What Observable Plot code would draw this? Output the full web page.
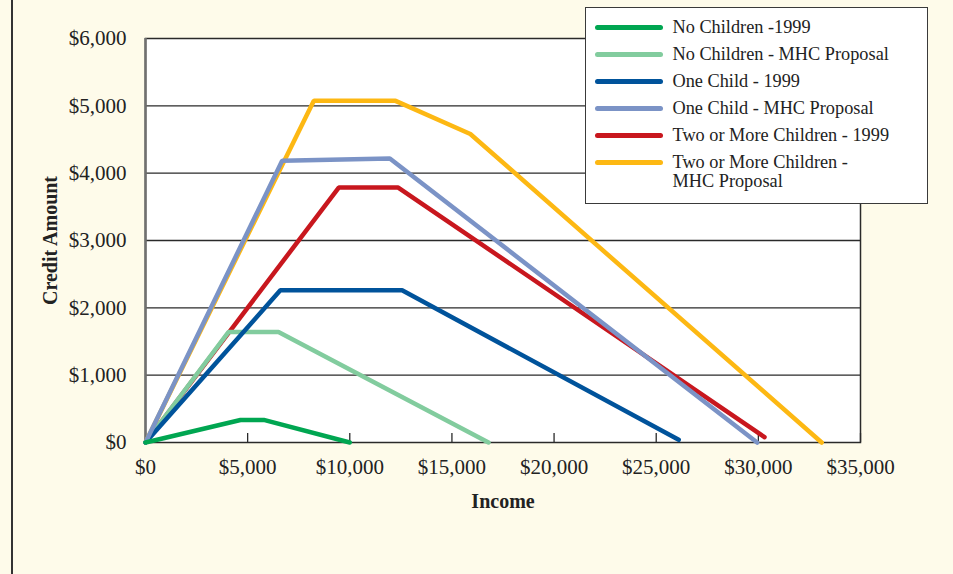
<!DOCTYPE html>
<html><head><meta charset="utf-8">
<script src="https://cdn.jsdelivr.net/npm/d3@7"></script>
<script src="https://cdn.jsdelivr.net/npm/@observablehq/plot@0.6"></script>
<style>
html,body{margin:0;padding:0;background:#fefbea;}
#wrap{position:relative;width:953px;height:574px;overflow:hidden;}
#edge{position:absolute;left:11px;top:0;width:1.5px;height:574px;background:#333;}
#legend{position:absolute;left:585px;top:7px;width:343px;height:197px;background:#fff;border:1.5px solid #3a3a3a;font-family:"Liberation Serif",serif;font-size:18.3px;color:#222;box-sizing:border-box;padding-top:6px;}
.row{display:flex;align-items:flex-start;height:27px;}
.sw{flex:none;width:68px;height:4.5px;border-radius:3px;margin-left:8.5px;margin-right:10px;margin-top:11.25px;}
.lab{line-height:27px;white-space:nowrap;}
.lab.two{line-height:18.4px;margin-top:4.3px;}
svg g[aria-label="y-axis label"] text, svg g[aria-label="x-axis label"] text{font-weight:bold;font-size:20px;}
</style>
</head><body>
<div id="wrap"><div id="edge"></div><div id="chart"></div><div id="legend"></div></div>
<script>
const seriesNames = ["No Children -1999", "No Children - MHC Proposal", "One Child - 1999", "One Child - MHC Proposal", "Two or More Children - 1999", "Two or More Children - MHC Proposal"];
const seriesColors = ["#00a651", "#82cc9e", "#00539b", "#7b93c6", "#c8171e", "#fdb813"];
// order in which the lines are stacked, bottom first (indices into seriesNames)
const drawOrder = [5, 4, 1, 2, 3, 0];

const noKids1999Income = [0, 4650, 5790, 10000];
const noKids1999Credit = [0, 335, 335, 0];
const noKidsMHCIncome = [0, 4060, 6510, 16790];
const noKidsMHCCredit = [0, 1640, 1640, 0];
const oneChild1999Income = [0, 6600, 12560, 26100];
const oneChild1999Credit = [0, 2260, 2260, 40];
const oneChildMHCIncome = [0, 6690, 11960, 29940];
const oneChildMHCCredit = [0, 4183, 4217, 0];
const twoPlus1999Income = [0, 9460, 12370, 30300];
const twoPlus1999Credit = [0, 3786, 3786, 80];
const twoPlusMHCIncome = [0, 8240, 12240, 15900, 33100];
const twoPlusMHCCredit = [0, 5074, 5074, 4582, 0];

const xTicks = [0, 5000, 10000, 15000, 20000, 25000, 30000, 35000];
const yTicks = [0, 1000, 2000, 3000, 4000, 5000, 6000];
const gridValues = [1000, 2000, 3000, 4000, 5000];

const incomes = [noKids1999Income, noKidsMHCIncome, oneChild1999Income, oneChildMHCIncome, twoPlus1999Income, twoPlusMHCIncome];
const credits = [noKids1999Credit, noKidsMHCCredit, oneChild1999Credit, oneChildMHCCredit, twoPlus1999Credit, twoPlusMHCCredit];
const rows = [];
drawOrder.forEach(i => incomes[i].forEach((x, j) => rows.push({series: seriesNames[i], income: x, credit: credits[i][j]})));

const fmt = d => "$" + d3.format(",")(d);

const plot = Plot.plot({
  width: 953, height: 574,
  marginLeft: 145, marginRight: 93, marginTop: 38, marginBottom: 132,
  style: {background: "transparent", fontFamily: "'Liberation Serif', serif", fontSize: "21px", color: "#222", overflow: "visible"},
  x: {domain: [0, 35000]},
  y: {domain: [0, 6000]},
  color: {domain: seriesNames, range: seriesColors},
  marks: [
    Plot.frame({fill: "white", stroke: null}),
    Plot.ruleY(gridValues, {stroke: "#2a2a2a", strokeWidth: 1.4}),
    Plot.tickX(xTicks.slice(1), {x: d => d, stroke: "#2a2a2a", strokeWidth: 1.3, insetTop: 395}),
    Plot.frame({stroke: "#2a2a2a", strokeWidth: 1.5}),
    Plot.ruleX([0], {stroke: "#707070", strokeWidth: 2.5}),
    Plot.line(rows, {x: "income", y: "credit", z: "series", stroke: "series", strokeWidth: 4.5, strokeLinecap: "round", strokeLinejoin: "miter"}),
    Plot.axisY(yTicks, {tickSize: 0, tickPadding: 19, tickFormat: fmt, label: "Credit Amount", labelAnchor: "center", labelArrow: "none", labelOffset: 103}),
    Plot.axisX(xTicks, {tickSize: 0, tickPadding: 17, tickFormat: fmt, label: "Income", labelAnchor: "center", labelArrow: "none", labelOffset: 65})
  ]
});
document.getElementById("chart").appendChild(plot);

const leg = document.getElementById("legend");
const legendLabels = ["No Children -1999", "No Children - MHC Proposal", "One Child - 1999", "One Child - MHC Proposal", "Two or More Children - 1999", "Two or More Children -<br>MHC Proposal"];
legendLabels.forEach((t, i) => {
  const r = document.createElement("div");
  r.className = "row";
  const two = t.includes("<br>");
  r.innerHTML = `<div class="sw" style="background:${seriesColors[i]}"></div><div class="lab${two ? " two" : ""}">${t}</div>`;
  leg.appendChild(r);
});
</script>
</body></html>
